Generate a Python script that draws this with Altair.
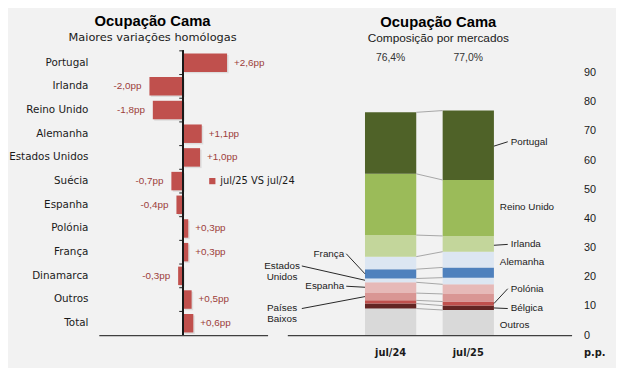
import altair as alt
import pandas as pd

# ---------------- data ----------------
left_categories = ["Portugal", "Irlanda", "Reino Unido", "Alemanha", "Estados Unidos", "Suécia",
                   "Espanha", "Polónia", "França", "Dinamarca", "Outros", "Total"]
left_values = [2.6, -2.0, -1.8, 1.1, 1.0, -0.7, -0.4, 0.3, 0.3, -0.3, 0.5, 0.6]
legend_label = "jul/25 VS jul/24"

periods = ["jul/24", "jul/25"]
markets = ["Outros", "Bélgica", "Polónia", "Países Baixos", "Espanha", "Estados Unidos",
           "França", "Alemanha", "Irlanda", "Reino Unido", "Portugal"]
share_jul24 = [9.1, 1.7, 1.1, 2.5, 3.7, 1.3, 3.2, 4.3, 7.4, 21.0, 21.1]
share_jul25 = [8.6, 1.5, 1.4, 2.6, 3.3, 2.3, 3.5, 5.4, 5.4, 19.2, 23.8]
market_colors = ["#d9d9d9", "#632523", "#c0504d", "#d99694", "#e6b9b8", "#dce6f2",
                 "#4f81bd", "#dce6f2", "#c3d69b", "#9bbb59", "#4f6228"]

# segment annotations (values in p.p.)
right_lead_names = ["Portugal", "Irlanda", "Polónia", "Bélgica"]
right_lead_label_y = [66.3, 31.1, 15.9, 9.1]
right_lead_anchor_y = [64.8, 30.8, 10.8, 9.3]
right_plain_names = ["Reino Unido", "Alemanha", "Outros"]
right_plain_label_y = [44.0, 25.0, 3.4]
left_short_names = ["França", "Espanha"]
left_short_label_y = [27.9, 16.75]
left_short_anchor_y = [21.0, 16.4]
left_long_names = ["Estados\nUnidos", "Países\nBaixos"]
left_long_label_y = [23.7, 9.1]
left_long_anchor_y = [18.8, 13.2]

# ---------------- helpers ----------------
def pp(v):
    return ("+" if v > 0 else "") + f"{v:.1f}".replace(".", ",") + "pp"

def pct(v):
    return f"{v:.1f}".replace(".", ",") + "%"

H = 288
LW = 171
RW = 288
TXT = "#1a1a1a"

# ---------------- left panel ----------------
df_l = pd.DataFrame({"cat": left_categories, "val": left_values})
df_l["lbl"] = [pp(v) for v in left_values]
df_l["serie"] = legend_label

y_l = alt.Y("cat:N", sort=left_categories,
            scale=alt.Scale(paddingInner=0.22, paddingOuter=0.11),
            axis=alt.Axis(title=None, ticks=False, domain=False, labelFont="DejaVu Sans",
                          labelFontSize=10.5, labelColor=TXT, labelPadding=11))
x_l = alt.X("val:Q", scale=alt.Scale(domain=[-5, 5], nice=False),
            axis=alt.Axis(title=None, labels=False, ticks=False, grid=False,
                          domainColor="#404040", domainWidth=1.2))
yl_plain = alt.Y("cat:N", sort=left_categories, title=None)
xl_plain = alt.X("val:Q", title=None)

base_l = alt.Chart(df_l)
bars_l = base_l.mark_bar().encode(
    x=x_l, y=y_l,
    color=alt.Color("serie:N", scale=alt.Scale(domain=[legend_label], range=["#c0504d"]),
                    legend=alt.Legend(title=None, orient="none", legendX=110, legendY=127,
                                      symbolType="square", symbolSize=40, labelFont="DejaVu Sans",
                                      labelFontSize=10, labelColor=TXT, labelOffset=3, padding=0)),
)
shadow_l = base_l.mark_bar(color="#c8c8c8", opacity=0.5, xOffset=1.5, yOffset=1.5).encode(
    x=xl_plain, y=yl_plain)
pos_l = base_l.transform_filter("datum.val > 0").mark_text(
    align="left", dx=7, font="Liberation Sans", fontSize=10, color="#9c3d3a").encode(
    x=xl_plain, y=yl_plain, text="lbl:N")
neg_l = base_l.transform_filter("datum.val < 0").mark_text(
    align="right", dx=-8, font="Liberation Sans", fontSize=10, color="#9c3d3a").encode(
    x=xl_plain, y=yl_plain, text="lbl:N")
zero_l = base_l.mark_rule(color="#1a1a1a", strokeWidth=1.3).encode(x=alt.datum(0))
ticks_l = base_l.mark_rule(color="#1a1a1a", strokeWidth=1, xOffset=-4, yOffset=-2.6).encode(
    x=alt.datum(0), x2=alt.datum(0),
    y=alt.Y("cat:N", sort=left_categories, bandPosition=0, title=None))

left = alt.layer(shadow_l, bars_l, zero_l, ticks_l, pos_l, neg_l).properties(
    width=LW, height=H,
    title=alt.TitleParams("Ocupação Cama", subtitle="Maiores variações  homólogas",
                          anchor="middle", dx=-31, font="Liberation Sans", fontSize=15,
                          fontWeight="bold", color="#000000", subtitleFont="DejaVu Sans",
                          subtitleFontSize=11.5, subtitleColor=TXT, subtitlePadding=3, offset=7),
)

# ---------------- right panel ----------------
rows = []
tops = {}
for p, shares in zip(periods, [share_jul24, share_jul25]):
    c = 0.0
    for m, v in zip(markets, shares):
        rows.append(dict(period=p, market=m, y0=c, y1=c + v))
        c += v
        tops[(p, m)] = c
df_r = pd.DataFrame(rows)
df_c = pd.DataFrame({"period": periods[0], "b": periods[1],
                     "y0": [tops[(periods[0], m)] for m in markets],
                     "yb": [tops[(periods[1], m)] for m in markets]})
df_t = pd.DataFrame({"period": periods, "lbl": [pct(sum(share_jul24)), pct(sum(share_jul25))]})

ax_xr = alt.Axis(title=None, labelAngle=0, ticks=False, domainColor="#404040",
                 domainWidth=1.2, labelFont="DejaVu Sans", labelFontWeight="bold",
                 labelFontSize=10, labelPadding=13, labelColor=TXT)
ax_yr = alt.Axis(orient="right", values=list(range(0, 100, 10)), grid=False, ticks=False,
                 domain=False, labelPadding=12, labelAlign="left", labelOverlap=False,
                 labelFont="Liberation Sans",
                 labelFontSize=11, labelColor=TXT, title="p.p.", titleAngle=0, titleX=12,
                 titleY=H + 18, titleAlign="left", titleBaseline="middle",
                 titleFont="DejaVu Sans", titleFontSize=10, titleFontWeight="bold",
                 titleColor=TXT)
sc_xr = alt.Scale(domain=periods, paddingInner=0.34, paddingOuter=1)
sc_yr = alt.Scale(domain=[0, 97.5], nice=False)

def xr(field="period", band=None):
    if band is None:
        return alt.X(f"{field}:N", sort=periods, scale=sc_xr, axis=ax_xr)
    return alt.X(f"{field}:N", sort=periods, scale=sc_xr, axis=ax_xr, bandPosition=band)

def yr(field):
    return alt.Y(f"{field}:Q", scale=sc_yr, axis=ax_yr)

bars_r = alt.Chart(df_r).mark_bar().encode(
    x=xr(), y=yr("y0"), y2="y1:Q",
    color=alt.Color("market:N", scale=alt.Scale(domain=markets, range=market_colors), legend=None),
)
conn_r = alt.Chart(df_c).mark_rule(color="#a6a6a6", strokeWidth=1).encode(
    x=xr("period", 1), x2=alt.X2("b:N", bandPosition=0),
    y=yr("y0"), y2="yb:Q")
tot_r = alt.Chart(df_t).mark_text(font="Liberation Sans", fontSize=10.5, color="#333333").encode(
    x=xr(), y=alt.value(7), text="lbl:N")

df_rl = pd.DataFrame({"name": right_lead_names, "y0": right_lead_label_y,
                      "ay": right_lead_anchor_y, "period": periods[1]})
df_rp = pd.DataFrame({"name": right_plain_names, "y0": right_plain_label_y, "period": periods[1]})
df_ls = pd.DataFrame({"name": left_short_names, "y0": left_short_label_y,
                      "ay": left_short_anchor_y, "period": periods[0]})
df_ll = pd.DataFrame({"name": left_long_names, "y0": left_long_label_y,
                      "ay": left_long_anchor_y, "period": periods[0]})

ann_font = dict(font="Liberation Sans", fontSize=10, color=TXT)

lead_r = alt.Chart(df_rl).mark_rule(color="#262626", strokeWidth=1, x2Offset=14).encode(
    x=xr("period", 1), x2=alt.X2("period:N", bandPosition=1), y=yr("ay"), y2="y0:Q")
txt_rl = alt.Chart(df_rl).mark_text(align="left", dx=17, **ann_font).encode(
    x=xr("period", 1), y=yr("y0"), text="name:N")
txt_rp = alt.Chart(df_rp).mark_text(align="left", dx=6, **ann_font).encode(
    x=xr("period", 1), y=yr("y0"), text="name:N")
lead_ls = alt.Chart(df_ls).mark_rule(color="#262626", strokeWidth=1, x2Offset=-19).encode(
    x=xr("period", 0), x2=alt.X2("period:N", bandPosition=0), y=yr("ay"), y2="y0:Q")
txt_ls = alt.Chart(df_ls).mark_text(align="right", dx=-21, **ann_font).encode(
    x=xr("period", 0), y=yr("y0"), text="name:N")
lead_ll = alt.Chart(df_ll).mark_rule(color="#262626", strokeWidth=1, x2Offset=-64).encode(
    x=xr("period", 0), x2=alt.X2("period:N", bandPosition=0), y=yr("ay"), y2="y0:Q")
txt_ll = alt.Chart(df_ll).mark_text(align="center", dx=-84, lineBreak="\n", lineHeight=11,
                                    **ann_font).encode(
    x=xr("period", 0), y=yr("y0"), text="name:N")

right = alt.layer(bars_r, conn_r, tot_r, lead_r, txt_rl, txt_rp, lead_ls, txt_ls,
                  lead_ll, txt_ll).properties(
    width=RW, height=H,
    title=alt.TitleParams("Ocupação Cama", subtitle="Composição  por  mercados",
                          anchor="middle", dx=9, font="Liberation Sans", fontSize=15,
                          fontWeight="bold", color="#000000", subtitleFont="Liberation Sans",
                          subtitleFontSize=12, subtitleColor=TXT, subtitlePadding=3, offset=7),
)

chart = alt.hconcat(left, right, spacing=20, bounds="flush").resolve_scale(
    color="independent"
).resolve_legend(color="independent").properties(
    padding={"left": 0, "top": 3, "right": 11, "bottom": 8}
).configure(background="#f2f2f2").configure_view(strokeOpacity=0)

chart.save("out.html", embed_options={"renderer": "svg", "actions": False})
